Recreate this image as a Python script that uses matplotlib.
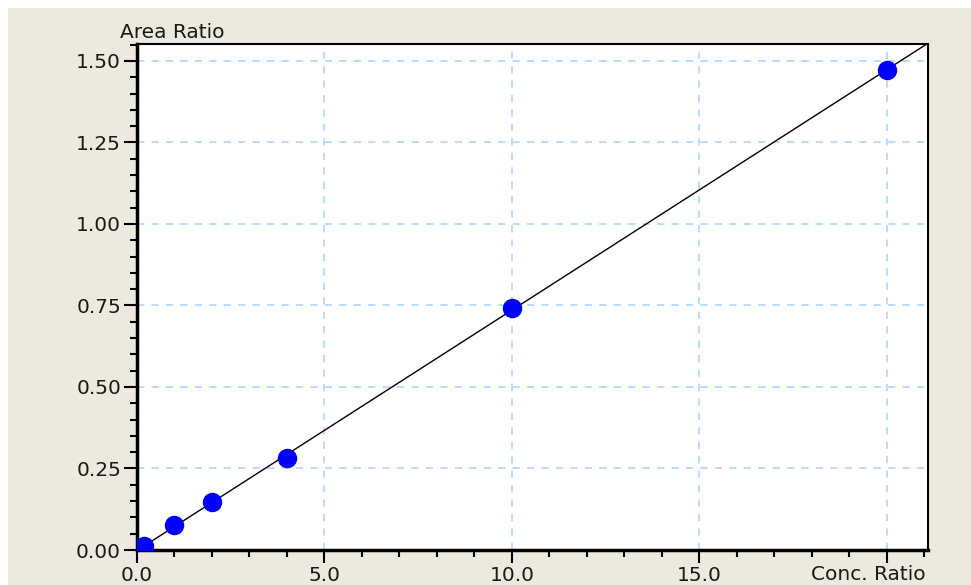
import numpy as np
import matplotlib.pyplot as plt
from matplotlib.patches import Rectangle

conc_ratio = [0.2, 1.0, 2.0, 4.0, 10.0, 20.0]
area_ratio = [0.013, 0.077, 0.148, 0.281, 0.742, 1.472]
x_ticks = [0, 5, 10, 15]
x_tick_labels = ['0.0', '5.0', '10.0', '15.0']
y_ticks = [0.0, 0.25, 0.5, 0.75, 1.0, 1.25, 1.5]
y_tick_labels = ['0.00', '0.25', '0.50', '0.75', '1.00', '1.25', '1.50']

bg = '#ECE9DF'
grid_col = '#B3D9FF'
txt_col = '#1a1a1a'

plt.rcParams['font.family'] = ['DejaVu Sans']

W, H = 971, 585
fig = plt.figure(figsize=(W / 100, H / 100), dpi=100, facecolor='white')
fig.patches.append(Rectangle((8 / W, 0), 1, 1 - 8 / H, transform=fig.transFigure,
                             facecolor=bg, edgecolor='none', zorder=-10))

ax = fig.add_axes([137 / W, 1 - 550 / H, (928 - 137) / W, (550 - 44) / H])
ax.set_facecolor('white')

xmin, xmax = 0, 21.1
ymin, ymax = 0, 1.552
ax.set_xlim(xmin, xmax)
ax.set_ylim(ymin, ymax)

# regression line
slope, icpt = np.polyfit(conc_ratio, area_ratio, 1)
xl = np.array([xmin, xmax])
ax.plot(xl, slope * xl + icpt, color='black', lw=1.0, zorder=3)
ax.plot(conc_ratio, area_ratio, 'o', color='#0000FF', ms=13, mec='#0000FF', zorder=4)

# grid
for gx in [5, 10, 15, 20]:
    ax.axvline(gx, color=grid_col, lw=1.3, ls=(0, (4, 4)), zorder=1)
for gy in y_ticks[1:]:
    ax.axhline(gy, color=grid_col, lw=1.3, ls=(0, (4, 4)), zorder=1)

ax.set_xticks(x_ticks + [20])
ax.set_xticklabels(x_tick_labels + [''])
ax.set_xticks(np.arange(0, 21.1, 1), minor=True)
ax.set_yticks(y_ticks)
ax.set_yticklabels(y_tick_labels)
ax.set_yticks(np.arange(0, 1.551, 0.05), minor=True)

ax.tick_params(axis='both', which='major', length=9.5, width=1.5, labelsize=14.5,
               color='black', labelcolor=txt_col, pad=2)
ax.tick_params(axis='both', which='minor', length=5, width=1.5, color='black')

for s in ['left', 'bottom']:
    ax.spines[s].set_linewidth(2.5)
for s in ['top', 'right']:
    ax.spines[s].set_linewidth(1.5)

fig.text(120 / W, 1 - 38 / H, 'Area Ratio', ha='left', va='baseline',
         fontsize=14.5, color=txt_col)
fig.text(926 / W, 1 - 565 / H, 'Conc. Ratio', ha='right', va='top',
         fontsize=14.5, color=txt_col)

fig.savefig('out.png', dpi=100, facecolor=fig.get_facecolor())
